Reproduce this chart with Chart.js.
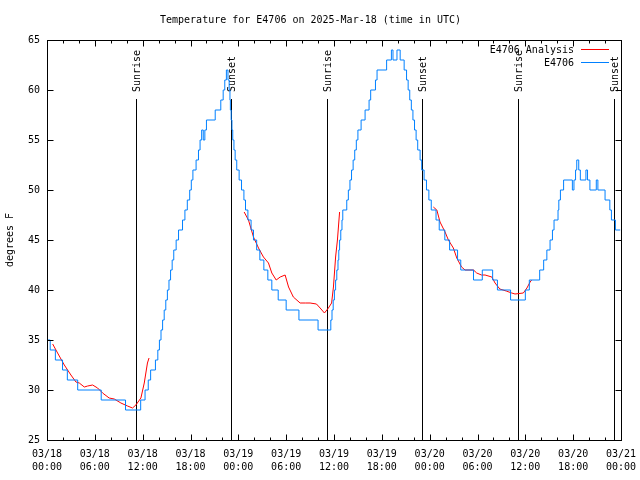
<!DOCTYPE html>
<html>
<head>
<meta charset="utf-8">
<title>Temperature for E4706</title>
<script src="https://cdn.jsdelivr.net/npm/chart.js@4.4.1/dist/chart.umd.min.js"></script>
<style>
    body { margin: 0; background: #fff; }
    canvas { display: block; }
</style>
</head>
<body>
<canvas id="tempChart" width="640" height="480"></canvas>
<script>
// x values are hours since 03/18 00:00 UTC
const obsHours = [0, 0.4, 1.05, 1.95, 2.55, 3.85, 6.8, 9.85, 11.75, 12.3, 12.7, 13.0, 13.6, 13.9, 14.1, 14.3, 14.5, 14.7, 14.9, 15.1,
    15.3, 15.5, 15.7, 15.9, 16.2, 16.5, 17.0, 17.3, 17.6, 17.9, 18.1, 18.3, 18.7, 19.0, 19.2, 19.4, 19.6, 19.8, 20.0, 21.1,
    21.8, 22.1, 22.3, 22.5, 22.7, 22.85, 22.95, 23.0, 23.1, 23.2, 23.3, 23.45, 23.6, 23.8, 24.1, 24.4, 24.7, 24.9, 25.2, 25.6,
    25.9, 26.3, 26.7, 27.2, 27.7, 28.2, 29.0, 30.0, 31.6, 34.0, 35.6, 35.75, 35.9, 36.05, 36.2, 36.35, 36.5, 36.6, 36.7, 36.85,
    37.0, 37.1, 37.6, 37.8, 38.0, 38.2, 38.4, 38.6, 38.8, 39.0, 39.4, 39.9, 40.4, 40.6, 41.2, 41.4, 42.6, 43.2, 43.4, 43.9,
    44.3, 44.8, 45.1, 45.3, 45.5, 45.7, 45.9, 46.1, 46.3, 46.5, 46.8, 47.0, 47.3, 47.6, 47.9, 48.2, 48.8, 49.2, 49.9, 50.5,
    51.5, 51.9, 53.5, 54.6, 55.9, 56.5, 58.15, 60.0, 60.5, 61.8, 62.3, 62.7, 63.1, 63.4, 63.6, 64.1, 64.2, 64.4, 64.8, 65.9,
    66.1, 66.3, 66.45, 66.7, 66.9, 67.6, 67.8, 68.1, 68.9, 69.1, 70.0, 70.6, 70.8, 71.3, 71.9];
const obsTemps = [35, 34, 33, 32, 31, 30, 29, 28, 29, 30, 31, 32, 33, 34, 35, 36, 37, 38, 39, 40,
    41, 42, 43, 44, 45, 46, 47, 48, 49, 50, 51, 52, 53, 54, 55, 56, 55, 56, 57, 58,
    59, 60, 61, 62, 61, 60, 59, 58, 57, 56, 55, 54, 53, 52, 51, 50, 49, 48, 47, 46,
    45, 44, 43, 42, 41, 40, 39, 38, 37, 36, 37, 38, 39, 40, 41, 42, 43, 44, 45, 46,
    47, 48, 49, 50, 51, 52, 53, 54, 55, 56, 57, 58, 59, 60, 61, 62, 63, 64, 63, 64,
    63, 62, 61, 60, 59, 58, 57, 56, 55, 54, 53, 52, 51, 50, 49, 48, 47, 46, 45, 44,
    43, 42, 41, 42, 41, 40, 39, 40, 41, 42, 43, 44, 45, 46, 47, 48, 49, 50, 51, 50,
    51, 52, 53, 52, 51, 52, 51, 50, 51, 50, 49, 48, 47, 46, 46];

// analysis curve, null marks a break between the pieces
const anaHours = [0.71, 1.33, 2.17, 3.0, 3.63, 4.05, 4.68, 5.1, 5.72, 6.35, 6.97, 7.8, 8.44, 9.27, 10.1, 10.73, 11.15, 11.78, 12.2, 12.6, 12.8,
    18.0,
    24.73, 25.27, 25.9, 26.53, 27.15, 27.78, 28.2, 28.75, 29.25, 29.87, 30.3, 30.9, 31.75, 32.4, 33.0, 33.8, 34.26, 34.8, 35.3, 35.7, 35.93, 36.2, 36.43, 36.7,
    42.0,
    48.46, 48.9, 49.3, 49.93, 50.35, 50.97, 51.4, 52.0, 52.44, 53.5, 53.9, 54.5, 54.95, 55.8, 56.2, 56.8, 57.6, 58.3, 58.7, 59.75, 60.2, 60.6, 60.8];
const anaTemps = [34.6, 33.7, 32.5, 31.5, 30.8, 30.7, 30.3, 30.4, 30.5, 30.2, 29.7, 29.2, 29.1, 28.7, 28.4, 28.2, 28.5, 29.2, 30.7, 32.7, 33.2,
    null,
    47.8, 47.0, 45.3, 44.2, 43.3, 42.7, 41.7, 41.0, 41.3, 41.5, 40.3, 39.3, 38.7, 38.7, 38.7, 38.6, 38.2, 37.7, 38.2, 38.7, 40.3, 43.3, 45.0, 47.8,
    null,
    48.3, 48.0, 46.8, 45.8, 45.0, 44.2, 43.2, 42.3, 42.0, 42.0, 41.7, 41.5, 41.5, 41.3, 40.7, 40.1, 39.9, 39.7, 39.6, 39.7, 40.2, 40.8, 41.0];

const sunHours = [11.15, 23.02, 35.1, 47.09, 59.12, 71.15];
const sunLabels = ['Sunrise', 'Sunset', 'Sunrise', 'Sunset', 'Sunrise', 'Sunset'];

const tickDates = ['03/18', '03/18', '03/18', '03/18', '03/19', '03/19', '03/19', '03/19', '03/20', '03/20', '03/20', '03/20', '03/21'];
const tickTimes = ['00:00', '06:00', '12:00', '18:00', '00:00', '06:00', '12:00', '18:00', '00:00', '06:00', '12:00', '18:00', '00:00'];

const FONT = '"DejaVu Sans Mono", monospace';

// sunrise / sunset markers under the data
const sunLines = {
    id: 'sunLines',
    beforeDatasetsDraw(chart) {
        const ctx = chart.ctx;
        const xs = chart.scales.x;
        const area = chart.chartArea;
        ctx.save();
        ctx.strokeStyle = '#000';
        ctx.lineWidth = 1;
        ctx.fillStyle = '#000';
        ctx.font = '10px ' + FONT;
        sunHours.forEach((h, i) => {
            const x = Math.round(xs.getPixelForValue(h)) + 0.5;
            ctx.beginPath();
            ctx.moveTo(x, 99);
            ctx.lineTo(x, area.bottom);
            ctx.stroke();
            ctx.save();
            ctx.translate(x + 0.5, 92);
            ctx.rotate(-Math.PI / 2);
            ctx.textAlign = 'left';
            ctx.textBaseline = 'middle';
            ctx.fillText(sunLabels[i], 0, 0);
            ctx.restore();
        });
        ctx.restore();
    }
};

// gnuplot style frame, inward ticks and the key
const frame = {
    id: 'frame',
    afterDatasetsDraw(chart) {
        const ctx = chart.ctx;
        const xs = chart.scales.x;
        const ys = chart.scales.y;
        const a = chart.chartArea;
        const l = Math.round(a.left) + 0.5, r = Math.round(a.right) + 0.5;
        const t = Math.round(a.top) + 0.5, b = Math.round(a.bottom) + 0.5;
        ctx.save();
        ctx.strokeStyle = '#000';
        ctx.lineWidth = 1;
        ctx.beginPath();
        for (let h = 0; h <= 72; h += 2) {
            const x = Math.round(xs.getPixelForValue(h)) + 0.5;
            const len = h % 6 === 0 ? 6 : 3;
            ctx.moveTo(x, b); ctx.lineTo(x, b - len);
            ctx.moveTo(x, t); ctx.lineTo(x, t + len);
        }
        for (let v = 25; v <= 65; v += 5) {
            const y = Math.round(ys.getPixelForValue(v)) + 0.5;
            ctx.moveTo(l, y); ctx.lineTo(l + 6, y);
            ctx.moveTo(r, y); ctx.lineTo(r - 6, y);
        }
        ctx.stroke();
        ctx.strokeRect(l, t, r - l, b - t);

        // key, top right
        ctx.font = '10px ' + FONT;
        ctx.textAlign = 'right';
        ctx.textBaseline = 'middle';
        chart.data.datasets.forEach((ds, i) => {
            const y = 50 + i * 13;
            ctx.fillStyle = '#000';
            ctx.fillText(ds.label, 574, y);
            ctx.strokeStyle = ds.borderColor;
            ctx.beginPath();
            ctx.moveTo(581, y - 0.5);
            ctx.lineTo(609, y - 0.5);
            ctx.stroke();
        });
        ctx.restore();
    }
};

const ctx = document.getElementById('tempChart').getContext('2d');

new Chart(ctx, {
    type: 'line',
    data: {
        datasets: [{
            label: 'E4706 Analysis',
            data: anaHours.map((h, i) => ({ x: h, y: anaTemps[i] })),
            borderColor: '#ff0000',
            borderWidth: 1,
            pointRadius: 0,
            spanGaps: false,
            order: 2
        }, {
            label: 'E4706',
            data: obsHours.map((h, i) => ({ x: h, y: obsTemps[i] })),
            borderColor: '#0080ff',
            borderWidth: 1,
            pointRadius: 0,
            stepped: 'before',
            order: 1
        }]
    },
    options: {
        responsive: false,
        animation: false,
        layout: { padding: { left: 0, right: 19, top: 0, bottom: 0 } },
        plugins: {
            legend: { display: false },
            tooltip: { enabled: false },
            title: {
                display: true,
                text: 'Temperature for E4706 on 2025-Mar-18 (time in UTC)',
                color: '#000',
                font: { family: FONT, size: 10, weight: 'normal', lineHeight: 1.2 },
                padding: { top: 14, bottom: 14 }
            }
        },
        scales: {
            x: {
                type: 'linear',
                min: 0,
                max: 72,
                grid: { display: false, drawTicks: false },
                border: { display: false },
                afterFit: (scale) => {
                    scale.height = 40;
                    scale.paddingLeft = 0;
                    scale.paddingRight = 0;
                },
                ticks: {
                    stepSize: 6,
                    autoSkip: false,
                    maxRotation: 0,
                    padding: 8,
                    color: '#000',
                    font: { family: FONT, size: 10, lineHeight: 1.3 },
                    callback: (v) => {
                        const i = Math.round(v / 6);
                        return [tickDates[i], tickTimes[i]];
                    }
                }
            },
            y: {
                min: 25,
                max: 65,
                grid: { display: false, drawTicks: false },
                border: { display: false },
                afterFit: (scale) => {
                    scale.width = 47;
                    scale.paddingTop = 0;
                    scale.paddingBottom = 0;
                },
                title: {
                    display: true,
                    text: 'degrees F',
                    color: '#000',
                    font: { family: FONT, size: 10 },
                    padding: { top: 4, bottom: 0 }
                },
                ticks: {
                    stepSize: 5,
                    padding: 7,
                    color: '#000',
                    font: { family: FONT, size: 10 }
                }
            }
        }
    },
    plugins: [sunLines, frame]
});
</script>
</body>
</html>
